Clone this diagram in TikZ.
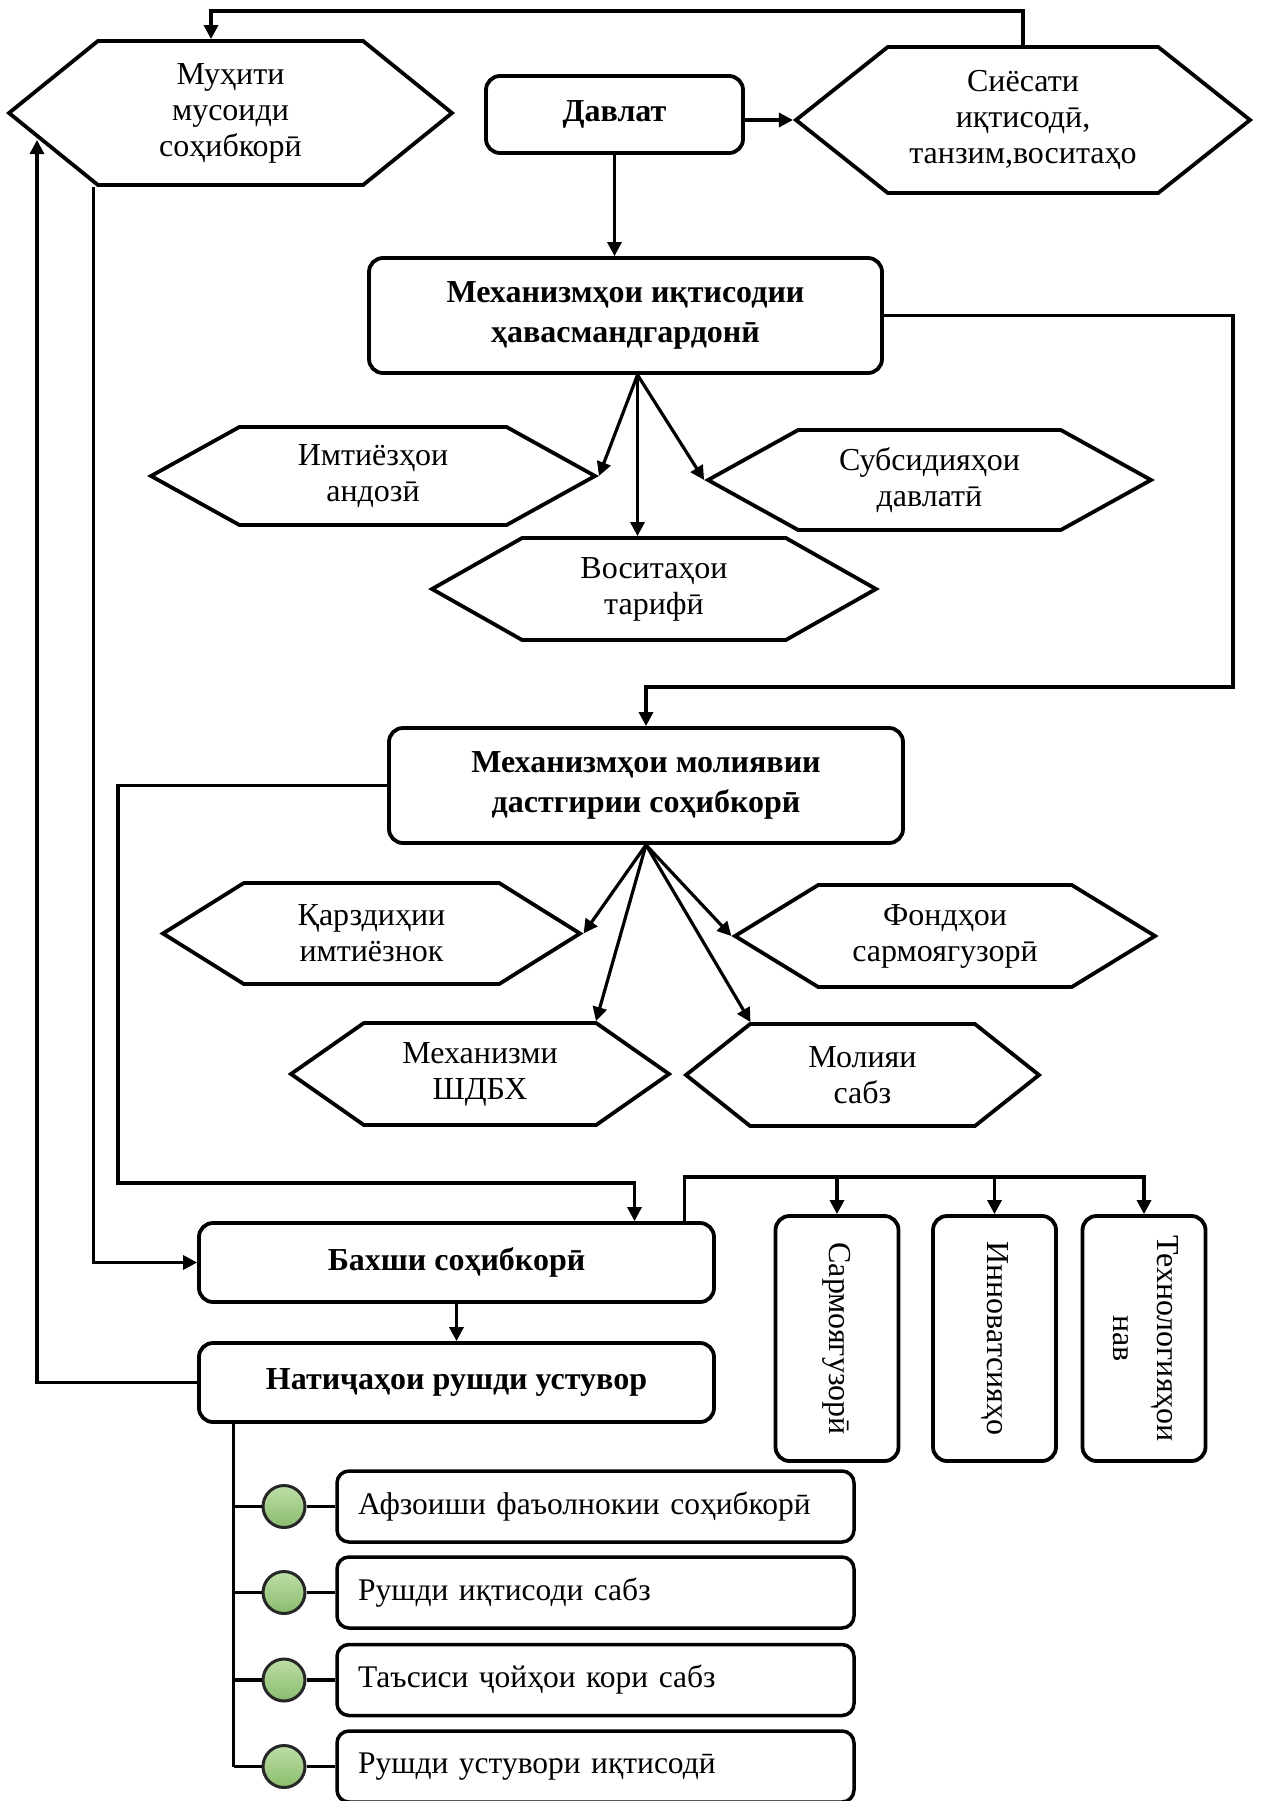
\documentclass[tikz,border=0pt]{standalone}
\usepackage{fontspec}
\setmainfont{Liberation Serif}
\usepackage{graphicx}
\usepackage{tikz}
\usetikzlibrary{arrows.meta,shapes.symbols}

\definecolor{dotlight}{RGB}{190,222,168}
\definecolor{dotdark}{RGB}{138,188,108}

\begin{document}
\begin{tikzpicture}[x=1pt,y=-1pt,
    hexa/.style={shape=signal,signal to=west and east,draw=black,line width=3.8pt,inner sep=0pt,align=center,font=\fontsize{32}{36}\selectfont},
    rbox/.style={shape=rectangle,rounded corners=14pt,draw=black,line width=3.8pt,inner sep=0pt,align=center,font=\bfseries\fontsize{32}{40}\selectfont},
    vbox/.style={rbox,minimum width=123pt,minimum height=245pt,font=\fontsize{32}{44}\selectfont},
    itembox/.style={shape=rectangle,rounded corners=12pt,draw=black,line width=3.5pt,inner xsep=21pt,inner ysep=0pt,text width=475pt,minimum height=71pt,align=left,font=\fontsize{31.5}{36}\selectfont},
    greendot/.style={shape=circle,draw=black!85,line width=3pt,minimum size=42pt,inner sep=0pt,top color=dotlight,bottom color=dotdark},
    arr/.style={-{Triangle[length=14pt,width=14pt]},line width=3.2pt},
    conn/.style={line width=3.2pt}]
    \useasboundingbox (0,0) rectangle (1261,1801);

    \node[hexa,signal pointer angle=78,minimum width=443pt,minimum height=144pt] (muhiti) at (230.5,113) {Муҳити\\мусоиди\\соҳибкорӣ};
    \node[rbox,minimum width=257pt,minimum height=77pt] (davlat) at (614.5,114.5) {Давлат};
    \node[hexa,signal pointer angle=77,minimum width=454pt,minimum height=146pt] (siesat) at (1023,120) {Сиёсати\\иқтисодӣ,\\танзим,воситаҳо};
    \node[rbox,minimum width=513pt,minimum height=115pt] (mexiq) at (625.5,315.5) {Механизмҳои иқтисодии\\ҳавасмандгардонӣ};
    \node[hexa,signal pointer angle=58,minimum width=444pt,minimum height=98pt] (imtiyoz) at (373,476) {Имтиёзҳои\\андозӣ};
    \node[hexa,signal pointer angle=58,minimum width=443pt,minimum height=100pt] (subsid) at (929.5,480) {Субсидияҳои\\давлатӣ};
    \node[hexa,signal pointer angle=59,minimum width=444pt,minimum height=102pt] (vosita) at (654,589) {Воситаҳои\\тарифӣ};
    \node[rbox,minimum width=514pt,minimum height=115pt] (mexmol) at (646,785.5) {Механизмҳои молиявии\\дастгирии соҳибкорӣ};
    \node[hexa,signal pointer angle=64,minimum width=417pt,minimum height=101pt] (qarz) at (371.5,933.5) {Қарздиҳии\\имтиёзнок};
    \node[hexa,signal pointer angle=63,minimum width=420pt,minimum height=102pt] (fond) at (945,936) {Фондҳои\\сармоягузорӣ};
    \node[hexa,signal pointer angle=70,minimum width=378pt,minimum height=102pt] (shdbx) at (480,1074) {Механизми\\ШДБХ};
    \node[hexa,signal pointer angle=77,minimum width=353pt,minimum height=102pt] (moliya) at (862.5,1075) {Молияи\\сабз};
    \node[rbox,minimum width=515pt,minimum height=79pt] (baxsh) at (456.5,1262.5) {Бахши соҳибкорӣ};
    \node[rbox,minimum width=515pt,minimum height=79pt] (natija) at (456.5,1382.5) {Натиҷаҳои рушди устувор};
    \node[vbox] (sarmoya) at (837,1338.5) {\rotatebox{-90}{Сармоягузорӣ}};
    \node[vbox] (innov) at (994.5,1338.5) {\rotatebox{-90}{Инноватсияҳо}};
    \node[vbox] (texno) at (1144,1338.5) {\rotatebox{-90}{\begin{tabular}{@{}c@{}}Технологияҳои\\нав\end{tabular}}};

    \node[itembox] (r1) at (595.5,1506.5) {\mbox{Афзоиши фаъолнокии соҳибкорӣ}};
    \node[itembox] (r2) at (595.5,1592.5) {Рушди иқтисоди сабз};
    \node[itembox] (r3) at (595.5,1680) {Таъсиси ҷойҳои кори сабз};
    \node[itembox] (r4) at (595.5,1766.5) {Рушди устувори иқтисодӣ};
    \node[greendot] (d1) at (284,1506.5) {};
    \node[greendot] (d2) at (284,1592.5) {};
    \node[greendot] (d3) at (284,1680) {};
    \node[greendot] (d4) at (284,1766.5) {};

    \coordinate (t1) at (211,11);
    \coordinate (c1) at (1233,687);
    \coordinate (c2) at (118,1183);
    \coordinate (c4) at (37,140);
    \coordinate (c5) at (684.5,1177);
    \coordinate (tr) at (233.5,1422);

    \draw[arr] (siesat.north) |- (t1) -- (t1 |- muhiti.north);
    \draw[arr] (davlat.east |- siesat.west) -- (siesat.west);
    \draw[arr] (davlat.south) -- (davlat.south |- mexiq.north);
    \draw[arr] (mexiq.east) -| (c1) -| (mexmol.north);

    \draw[arr] ([xshift=12pt]mexiq.south) -- (imtiyoz.east);
    \draw[arr] ([xshift=12pt]mexiq.south) -- ([xshift=12pt]mexiq.south |- vosita.north);
    \draw[arr] ([xshift=12pt]mexiq.south) -- (subsid.west);

    \draw[arr] (mexmol.south) -- (qarz.east);
    \draw[arr] (mexmol.south) -- (fond.west);
    \draw[arr] (mexmol.south) -- ([xshift=116pt]shdbx.north);
    \draw[arr] (mexmol.south) -- ([xshift=-112pt]moliya.north);

    \draw[arr] (mexmol.west) -| (c2) -| ([xshift=178pt]baxsh.north);
    \draw[arr] ([xshift=-137pt]muhiti.south) |- (baxsh.west);
    \draw[arr] (baxsh.south) -- (natija.north);
    \draw[arr] (natija.west) -| (c4);

    \draw[arr] ([xshift=228pt]baxsh.north) -- (c5) -| (texno.north);
    \draw[arr] (c5 -| sarmoya.north) -- (sarmoya.north);
    \draw[arr] (c5 -| innov.north) -- (innov.north);

    \draw[conn] (tr) -- (tr |- d4);
    \draw[conn] (tr |- d1) -- (d1) -- (r1);
    \draw[conn] (tr |- d2) -- (d2) -- (r2);
    \draw[conn] (tr |- d3) -- (d3) -- (r3);
    \draw[conn] (tr |- d4) -- (d4) -- (r4);
\end{tikzpicture}
\end{document}
